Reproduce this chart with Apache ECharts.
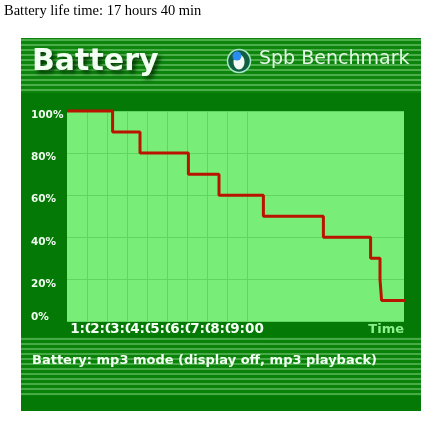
<!DOCTYPE html>
<html><head><meta charset="utf-8">
<script src="https://cdn.jsdelivr.net/npm/echarts@6/dist/echarts.min.js"></script>
<style>html,body{margin:0;padding:0;background:#fff}#c{width:429px;height:421px}</style>
</head><body><div id="c"></div>
<script>
// ---- data ----
const hours  = [0, 2.28, 3.65, 6.07, 7.6, 9.82, 12.82, 15.18, 15.65, 15.73, 16.95];
const charge = [100, 90, 80, 70, 60, 50, 40, 30, 20, 10, 10];
const hourTicks = [1, 2, 3, 4, 5, 6, 7, 8, 9];
const pctTicks = [0, 20, 40, 60, 80, 100];
const pageTitle = 'Battery life time: 17 hours 40 min';
const chartTitle = 'Battery';
const brand = 'Spb Benchmark';
const caption = 'Battery: mp3 mode (display off, mp3 playback)';
const axisName = 'Time';

// ---- styling ----
const X_MAX = 16.85;
const PANEL = '#057905';
const FONT = 'DejaVu Sans';
const graphic = [];
graphic.push({type:'text', x:4, y:11, z:5, style:{text:pageTitle, fontFamily:'Liberation Serif', fontSize:14.5, fill:'#000', verticalAlign:'middle'}});
graphic.push({type:'rect', z:-5, shape:{x:21, y:38, width:400, height:373}, style:{fill:PANEL}});
graphic.push({type:'rect', z:-4, shape:{x:21, y:38, width:400, height:55}, style:{fill:'#0d850d'}});
for (let y = 39; y <= 89; y += 5) graphic.push({type:'rect', z:-3, shape:{x:21, y:y, width:400, height:2}, style:{fill:'#4bae4b'}});
graphic.push({type:'rect', z:-4, shape:{x:21, y:337, width:400, height:59}, style:{fill:'#0a820a'}});
for (let y = 338; y <= 393; y += 5) graphic.push({type:'rect', z:-3, shape:{x:21, y:y, width:400, height:2}, style:{fill:'#46aa46'}});
graphic.push({type:'text', x:32, y:62.5, z:5, style:{text:chartTitle, fontFamily:FONT, fontWeight:'bold', fontSize:30, fill:'#f4fff4', verticalAlign:'middle', textShadowColor:'rgba(0,40,0,0.85)', textShadowBlur:4, textShadowOffsetX:3, textShadowOffsetY:3}});
graphic.push({type:'text', x:259, y:59.5, z:5, style:{text:brand, fontFamily:FONT, fontSize:19, fill:'#e4f6e4', verticalAlign:'middle'}});
// logo
graphic.push({type:'circle', z:5, shape:{cx:239, cy:61, r:11.5}, style:{fill:'#0f5f40', stroke:'#a8e6c8', lineWidth:1.5}});
graphic.push({type:'ellipse', z:6, shape:{cx:239, cy:62, rx:5.5, ry:7.5}, style:{fill:'#f4f8f4'}});
graphic.push({type:'circle', z:7, shape:{cx:237, cy:56, r:4.5}, style:{fill:'#2a8cf0'}});
graphic.push({type:'text', x:32, y:360.5, z:5, style:{text:caption, fontFamily:FONT, fontWeight:'bold', fontSize:13, fill:'#f2fff2', verticalAlign:'middle'}});

const labelValues = [0].concat(hourTicks, [X_MAX]);
const chart = echarts.init(document.getElementById('c'), null, {renderer:'canvas'});
chart.setOption({
  backgroundColor:'#ffffff',
  animation:false,
  graphic: graphic,
  grid:{left:67, top:111, width:337, height:210.5, show:true, backgroundColor:'#78ee78', borderWidth:0, containLabel:false},
  xAxis:{
    type:'value', min:0, max:X_MAX, interval:1,
    name:axisName, nameLocation:'end', nameGap:0,
    nameTextStyle:{color:'#8cf08c', fontFamily:FONT, fontWeight:'bold', fontSize:13, align:'right', verticalAlign:'top', padding:[2,0,0,0]},
    axisLine:{show:false}, axisTick:{show:false, customValues:hourTicks},
    axisLabel:{customValues:labelValues, hideOverlap:false,
      formatter:v => hourTicks.indexOf(v) >= 0 ? v + ':00' : '',
      color:'#f6fff6', fontFamily:FONT, fontWeight:'bold', fontSize:13.5, margin:1, backgroundColor:PANEL},
    splitLine:{show:true, lineStyle:{color:'#62d462', width:1}}
  },
  yAxis:{
    type:'value', min:0, max:100, interval:20,
    axisLine:{show:false}, axisTick:{show:false},
    axisLabel:{
      customValues:pctTicks, showMinLabel:true, showMaxLabel:true,
      formatter:v => (v === 0 ? '{b|' : '{a|') + v + '%}',
      align:'left', margin:36,
      rich:{
        a:{color:'#eefcee', fontFamily:FONT, fontWeight:'bold', fontSize:10.5, padding:[9,0,0,0]},
        b:{color:'#eefcee', fontFamily:FONT, fontWeight:'bold', fontSize:10.5, padding:[0,0,8,0]}
      }
    },
    splitLine:{show:true, lineStyle:{color:'#62d462', width:1}}
  },
  series:[{
    type:'line', step:'end', symbol:'none', clip:false,
    data: hours.map((h, i) => [h, charge[i]]),
    lineStyle:{color:'#b81400', width:3}
  }]
});
</script></body></html>
